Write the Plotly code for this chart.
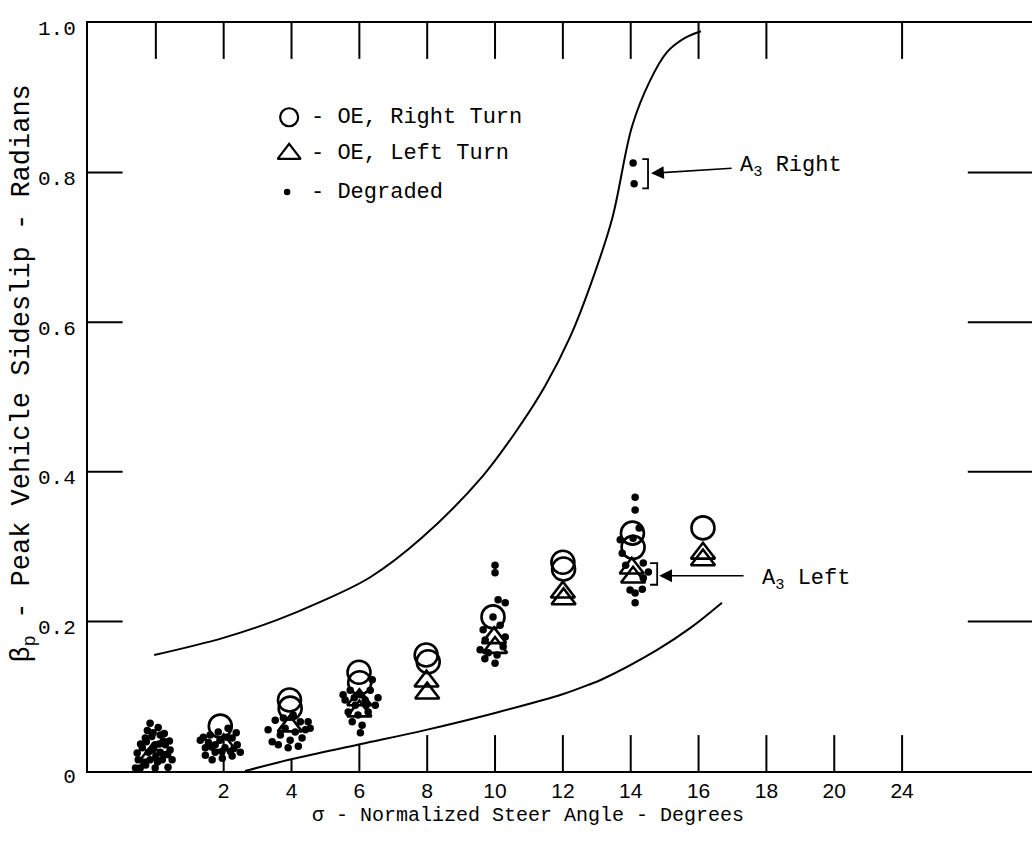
import numpy as np
import plotly.graph_objects as go

# ---- data -------------------------------------------------------------
# boundary curves
UPPER_X = [-0.05, 1.99, 3.58, 4.85, 6.32, 7.85, 9.65, 10.74, 11.48, 12.21, 12.80, 13.45, 14.04, 14.57, 15.07, 15.60, 16.07]
UPPER_Y = [0.155, 0.178, 0.202, 0.226, 0.259, 0.312, 0.395, 0.462, 0.515, 0.580, 0.648, 0.738, 0.862, 0.923, 0.961, 0.980, 0.989]
LOWER_X = [2.63, 4.02, 6.05, 7.97, 10.03, 12.01, 12.80, 13.13, 14.78, 15.75, 16.69]
LOWER_Y = [0.000, 0.016, 0.036, 0.055, 0.078, 0.103, 0.116, 0.122, 0.162, 0.191, 0.225]

# OE, right turn
RIGHT_X = [1.90, 3.94, 3.96, 5.99, 6.01, 7.97, 8.03, 9.94, 12.00, 12.02, 14.05, 14.07, 16.13]
RIGHT_Y = [0.060, 0.095, 0.084, 0.132, 0.118, 0.155, 0.146, 0.206, 0.279, 0.270, 0.318, 0.299, 0.325]

# OE, left turn
LEFT_X = [-0.10, 2.00, 3.95, 6.00, 6.00, 7.98, 8.00, 9.97, 10.00, 12.00, 12.02, 14.03, 14.07, 16.13, 16.13]
LEFT_Y = [0.022, 0.035, 0.060, 0.095, 0.080, 0.120, 0.104, 0.178, 0.165, 0.239, 0.230, 0.271, 0.259, 0.291, 0.282]

# degraded runs
DEG_X = [
    # sigma ~ 0
    -0.17, -0.08, -0.31, 0.13, -0.40, -0.02, 0.28, -0.22, 0.13, 0.42, -0.52, -0.17, 0.19,
    0.48, -0.46, -0.02, 0.36, -0.28, 0.07, -0.60, 0.00, 0.30, -0.35, 0.22, -0.10,
    -0.55, -0.30, 0.05, 0.40, -0.12, 0.25, -0.45, 0.10, -0.25, 0.35,
    # sigma ~ 2
    1.31, 1.46, 1.60, 1.75, 1.89, 2.04, 2.25, 2.40, 2.49, 1.66, 1.96, 2.25, 1.84, 2.13,
    1.46, 2.37, 1.55, 2.10, 1.75, 2.30, 1.40, 1.95, 2.20, 1.65,
    # sigma ~ 4
    3.31, 3.52, 3.67, 3.81, 3.96, 4.11, 4.26, 4.41, 4.55, 3.61, 3.90, 4.20, 3.43, 3.76,
    4.05, 4.31, 4.49,
    # sigma ~ 6
    5.58, 5.73, 5.88, 6.03, 6.17, 6.32, 6.47, 5.67, 5.96, 6.26, 6.55, 5.79, 6.08, 6.03,
    5.52, 6.38, 5.85, 6.20,
    # sigma ~ 10
    9.94, 10.00, 10.00, 10.09, 10.30, 9.65, 9.71, 9.56, 9.80, 10.06, 10.24, 10.30, 10.00,
    9.70, 10.15,
    # sigma ~ 14
    14.13, 14.13, 13.69, 13.75, 14.37, 14.52, 14.37, 13.98, 14.34, 14.13, 14.13, 14.07,
    14.25, 13.85,
    # A3 right
    14.07, 14.10,
]
DEG_Y = [
    0.064, 0.051, 0.044, 0.048, 0.031, 0.035, 0.035, 0.025, 0.025, 0.028, 0.015, 0.015, 0.015,
    0.015, 0.004, 0.004, 0.005, 0.039, 0.058, 0.004, 0.020, 0.022, 0.010, 0.040, 0.028,
    0.024, 0.008, 0.012, 0.040, 0.046, 0.050, 0.036, 0.036, 0.054, 0.022,
    0.041, 0.031, 0.048, 0.025, 0.041, 0.031, 0.044, 0.035, 0.025, 0.015, 0.017, 0.020, 0.052, 0.057,
    0.021, 0.051, 0.038, 0.045, 0.035, 0.030, 0.045, 0.026, 0.026, 0.032,
    0.055, 0.068, 0.048, 0.057, 0.041, 0.052, 0.066, 0.055, 0.057, 0.035, 0.031, 0.033, 0.039, 0.071,
    0.075, 0.044, 0.066,
    0.095, 0.108, 0.088, 0.102, 0.095, 0.108, 0.088, 0.079, 0.075, 0.079, 0.098, 0.066, 0.061, 0.051,
    0.102, 0.122, 0.098, 0.088,
    0.206, 0.275, 0.265, 0.229, 0.225, 0.189, 0.175, 0.162, 0.158, 0.155, 0.166, 0.179, 0.144,
    0.150, 0.195,
    0.366, 0.349, 0.309, 0.291, 0.278, 0.266, 0.258, 0.242, 0.243, 0.238, 0.225, 0.311,
    0.325, 0.275,
    0.813, 0.785,
]

# axis ticks
BOTTOM_TICKS = [2, 4, 6, 8, 10, 12, 14, 16, 18, 20, 22]
BOTTOM_LABELS = ["2", "4", "6", "8", "10", "12", "14", "16", "18", "20", "24"]
TOP_TICKS = [0, 2, 4, 6, 8, 10, 12, 14, 16, 18, 22]
Y_TICKS = [0, 0.2, 0.4, 0.6, 0.8, 1.0]
Y_LABELS = ["0", "0.2", "0.4", "0.6", "0.8", "1.0"]
SIDE_TICKS = [0.2, 0.4, 0.6, 0.8]

# ---- styling ----------------------------------------------------------
MONO = "Liberation Mono, Courier New, monospace"
SANS = "Liberation Sans, Arial, sans-serif"
INK = "black"
X_MIN, X_MAX = -2.0, 25.83
TICK_H = 0.048          # inward tick length in y units
TICK_W = 1.02           # inward tick length in x units

fig = go.Figure()

fig.add_trace(go.Scatter(x=UPPER_X, y=UPPER_Y, mode="lines",
                         line=dict(color=INK, width=2, shape="spline", smoothing=1.0),
                         showlegend=False, hoverinfo="skip"))
fig.add_trace(go.Scatter(x=LOWER_X, y=LOWER_Y, mode="lines",
                         line=dict(color=INK, width=2, shape="spline", smoothing=1.0),
                         showlegend=False, hoverinfo="skip"))

fig.add_trace(go.Scatter(x=RIGHT_X, y=RIGHT_Y, mode="markers", name="OE, Right Turn",
                         marker=dict(symbol="circle-open", size=23, color=INK,
                                     line=dict(width=2.6, color=INK)),
                         showlegend=False))
fig.add_trace(go.Scatter(x=LEFT_X, y=LEFT_Y, mode="markers", name="OE, Left Turn",
                         marker=dict(symbol="triangle-up-open", size=21, color=INK,
                                     line=dict(width=2.6, color=INK)),
                         showlegend=False))
fig.add_trace(go.Scatter(x=DEG_X, y=DEG_Y, mode="markers", name="Degraded",
                         marker=dict(symbol="circle", size=7.5, color=INK, line=dict(width=0)),
                         showlegend=False))

# key symbols
KEY_X = 3.93
KEY_Y = [0.874, 0.825, 0.774]
fig.add_trace(go.Scatter(x=[KEY_X], y=[KEY_Y[0]], mode="markers", showlegend=False,
                         marker=dict(symbol="circle-open", size=18, color=INK, line=dict(width=2.2))))
fig.add_trace(go.Scatter(x=[KEY_X], y=[KEY_Y[1]], mode="markers", showlegend=False,
                         marker=dict(symbol="triangle-up-open", size=20, color=INK, line=dict(width=2.2))))
fig.add_trace(go.Scatter(x=[KEY_X - 0.06], y=[KEY_Y[2]], mode="markers", showlegend=False,
                         marker=dict(symbol="circle", size=6.5, color=INK)))

shapes = []
line_style = dict(color=INK, width=2)
# top ticks
for t in TOP_TICKS:
    shapes.append(dict(type="line", xref="x", yref="y", x0=t, x1=t, y0=1.0, y1=1.0 - TICK_H,
                       line=line_style))
# bottom ticks, stopping at the lower boundary curve
for t in BOTTOM_TICKS:
    top = TICK_H
    if t >= LOWER_X[0]:
        top = min(TICK_H, float(np.interp(t, LOWER_X, LOWER_Y)))
    top = max(top, 0.009)
    shapes.append(dict(type="line", xref="x", yref="y", x0=t, x1=t, y0=0, y1=top,
                       line=line_style))
# left and right ticks
for v in SIDE_TICKS:
    shapes.append(dict(type="line", xref="x", yref="y", x0=X_MIN, x1=X_MIN + TICK_W, y0=v, y1=v,
                       line=line_style))
    shapes.append(dict(type="line", xref="paper", yref="y", x0=0.932, x1=1.0, y0=v, y1=v,
                       line=line_style))
# brackets around the A3 runs
shapes.append(dict(type="path", xref="x", yref="y",
                   path="M 14.34 0.818 L 14.51 0.818 L 14.51 0.779 L 14.34 0.779",
                   line=dict(color=INK, width=1.8)))
shapes.append(dict(type="path", xref="x", yref="y",
                   path="M 14.57 0.278 L 14.78 0.278 L 14.78 0.249 L 14.57 0.249",
                   line=dict(color=INK, width=1.8)))

annotations = [
    # key text
    dict(x=4.52, y=KEY_Y[0], xref="x", yref="y", text="- OE, Right Turn", showarrow=False,
         xanchor="left", yanchor="middle", font=dict(family=MONO, size=22, color=INK)),
    dict(x=4.52, y=KEY_Y[1], xref="x", yref="y", text="- OE, Left Turn", showarrow=False,
         xanchor="left", yanchor="middle", font=dict(family=MONO, size=22, color=INK)),
    dict(x=4.52, y=KEY_Y[2], xref="x", yref="y", text="- Degraded", showarrow=False,
         xanchor="left", yanchor="middle", font=dict(family=MONO, size=22, color=INK)),
    # A3 call-outs
    dict(x=14.60, y=0.799, ax=17.02, ay=0.806, xref="x", yref="y", axref="x", ayref="y",
         text="", showarrow=True, arrowhead=2, arrowsize=1.6, arrowwidth=1.6, arrowcolor=INK),
    dict(x=17.16, y=0.808, xref="x", yref="y", text="A<sub>3</sub> Right", showarrow=False,
         xanchor="left", yanchor="middle", font=dict(family=MONO, size=22, color=INK)),
    dict(x=14.84, y=0.261, ax=17.37, ay=0.261, xref="x", yref="y", axref="x", ayref="y",
         text="", showarrow=True, arrowhead=2, arrowsize=1.6, arrowwidth=1.6, arrowcolor=INK),
    dict(x=17.81, y=0.256, xref="x", yref="y", text="A<sub>3</sub> Left", showarrow=False,
         xanchor="left", yanchor="middle", font=dict(family=MONO, size=22, color=INK)),
    # axis titles
    dict(x=0.466, y=-0.060, xref="paper", yref="paper",
         text="σ - Normalized Steer Angle - Degrees", showarrow=False,
         xanchor="center", yanchor="middle", font=dict(family=MONO, size=20, color=INK)),
    dict(x=-0.068, y=0.531, xref="paper", yref="paper", textangle=-90,
         text="β<sub>p</sub> - Peak Vehicle Sideslip - Radians", showarrow=False,
         xanchor="center", yanchor="middle", font=dict(family=MONO, size=27, color=INK)),
]

fig.update_layout(
    width=1032, height=841,
    margin=dict(l=88, r=0, t=23, b=70),
    paper_bgcolor="white", plot_bgcolor="white",
    shapes=shapes, annotations=annotations,
    xaxis=dict(range=[X_MIN, X_MAX], showline=True, linecolor=INK, linewidth=2, mirror=True,
               showgrid=False, zeroline=False, ticks="", tickvals=BOTTOM_TICKS,
               ticktext=BOTTOM_LABELS, tickfont=dict(family=SANS, size=21, color=INK)),
    yaxis=dict(range=[0, 1], showline=True, linecolor=INK, linewidth=2, mirror=False,
               showgrid=False, zeroline=False, ticks="", tickvals=Y_TICKS, ticktext=Y_LABELS,
               tickfont=dict(family=MONO, size=21, color=INK), ticklabelstandoff=6,
               ticklabelshift=5),
)

fig.write_html("out.html")
